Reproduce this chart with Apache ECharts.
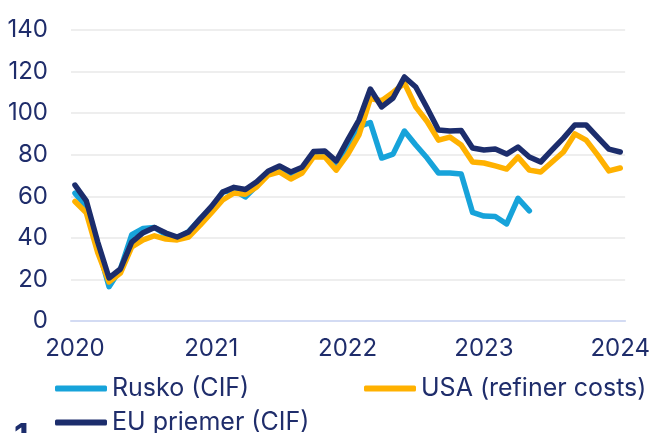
<!DOCTYPE html>
<html>
<head>
<meta charset="utf-8">
<script src="https://cdn.jsdelivr.net/npm/echarts@6/dist/echarts.min.js"></script>
<style>
  html, body { margin: 0; padding: 0; background: #fff; }
  #chart { width: 653px; height: 433px; }
</style>
</head>
<body>
<div id="chart"></div>
<script>
// mesačné údaje, január 2020 – január 2024
var months = [];
for (var y = 2020; y <= 2024; y++) {
  for (var m = 1; m <= 12; m++) {
    if (y === 2024 && m > 1) break
    months.push(y + '-' + (m < 10 ? '0' + m : m))
  }
}
var yearTicks = [0, 12, 24, 36, 48]
var yearLabels = ['2020', '2021', '2022', '2023', '2024']

var rusko = [61.5, 55, 36, 16.5, 25, 41.5, 44.5, 45, 41.5, 40, 43, 49, 54,
  62, 63, 59.7, 65, 71, 73.5, 70.5, 73, 80, 80, 75, 84, 93.5, 95.5, 78.4, 80.3,
  91.4, 84.7, 78.4, 71.2, 71.2, 70.7, 52.2, 50.5, 50.3, 46.7, 59, 53]
var usa = [57.5, 52, 33, 18.8, 23, 35.6, 39, 41, 39.4, 39, 40.4, 46, 52,
  58.2, 61.6, 61, 64.5, 70.2, 71.7, 68.3, 71.2, 78.9, 78.9, 72.6, 80, 89.5, 107,
  106, 110, 114.5, 103, 96, 87, 88.5, 84.7, 76.5, 76, 74.6, 73.1, 78.9, 72.6,
  71.7, 76.5, 81.3, 90, 87, 79.9, 72.2, 73.6]
var eu = [65.4, 57.8, 38, 20.7, 25, 38, 42.5, 45, 42.3, 40.4, 42.8, 49, 55,
  62, 64.3, 63.3, 67, 72, 74.6, 71.7, 74, 81.5, 81.8, 77, 87, 96.7, 111.6,
  103, 107.3, 117.4, 112.6, 102.5, 91.9, 91.4, 91.6, 83.2, 82.3, 82.7, 80.3, 83.7,
  78.9, 76.5, 82.3, 88, 94.3, 94.3, 88.5, 82.7, 81.3]

var navy = '#1c2d6c'
var textColor = '#1f2d6b'

function pairs (arr) {
  return arr.map(function (v, i) { return [i, v] })
}

var legendText = { color: textColor, fontSize: 25, fontFamily: 'Inter' }
function legendAt (name, left, top) {
  return {
    data: [name],
    left: left,
    top: top,
    icon: 'roundRect',
    itemWidth: 52,
    itemHeight: 6,
    itemGap: 0,
    textStyle: legendText,
    selectedMode: false
  }
}

var option = {
  animation: false,
  backgroundColor: '#fff',
  grid: { left: 71, right: 20, top: 30, bottom: 112 },
  legend: [
    legendAt('Rusko (CIF)', 50, 371),
    legendAt('USA (refiner costs)', 359, 371),
    legendAt('EU priemer (CIF)', 50, 405)
  ],
  xAxis: {
    type: 'value',
    min: -0.35,
    max: 48.43,
    splitLine: { show: false },
    axisTick: { show: false },
    axisLine: { show: true, lineStyle: { color: '#d3dbf3', width: 2 } },
    axisLabel: {
      customValues: yearTicks,
      formatter: function (v) { return yearLabels[yearTicks.indexOf(v)] },
      color: textColor,
      fontSize: 24,
      fontFamily: 'Inter',
      margin: 16
    }
  },
  yAxis: {
    type: 'value',
    min: 0,
    max: 140,
    interval: 20,
    axisLine: { show: false },
    axisTick: { show: false },
    splitLine: { lineStyle: { color: '#eeeeee', width: 2 } },
    axisLabel: { color: textColor, fontSize: 24, fontFamily: 'Inter', margin: 23 }
  },
  series: [
    {
      name: 'Rusko (CIF)',
      type: 'line',
      data: pairs(rusko),
      showSymbol: false,
      color: '#17a3da',
      lineStyle: { width: 5.5, cap: 'round', join: 'round' }
    },
    {
      name: 'USA (refiner costs)',
      type: 'line',
      data: pairs(usa),
      showSymbol: false,
      color: '#ffb100',
      lineStyle: { width: 5.5, cap: 'round', join: 'round' }
    },
    {
      name: 'EU priemer (CIF)',
      type: 'line',
      data: pairs(eu),
      showSymbol: false,
      color: navy,
      lineStyle: { width: 5.5, cap: 'round', join: 'round' }
    }
  ],
  graphic: [{
    type: 'text',
    left: 14,
    top: 421,
    style: { text: '1', fill: navy, font: 'bold 34px Inter' }
  }]
}

var myChart = echarts.init(document.getElementById('chart'))
myChart.setOption(option)
</script>
</body>
</html>
